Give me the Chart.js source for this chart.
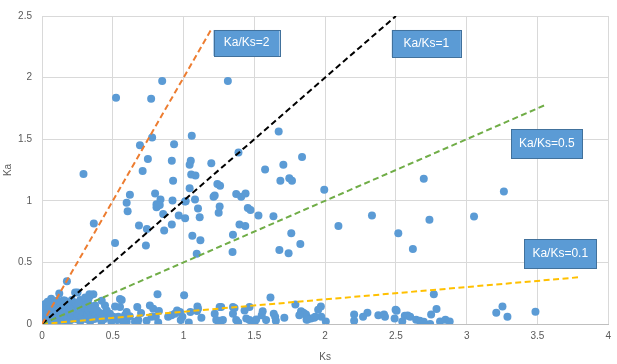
<!DOCTYPE html>
<html>
<head>
<meta charset="utf-8">
<script src="https://cdn.jsdelivr.net/npm/chart.js@4"></script>
<style>
  body { margin: 0; background: #fff; }
</style>
</head>
<body>
<canvas id="kaksChart" width="617" height="364"></canvas>
<script>
// axis ticks
const ksTicks = [0, 0.5, 1, 1.5, 2, 2.5, 3, 3.5, 4];
const kaTicks = [0, 0.5, 1, 1.5, 2, 2.5];

// gene pairs [Ks, Ka]
const pairsHigh = [
  [0.293,1.218],[0.523,1.837],[0.771,1.829],[0.849,1.973],[1.313,1.973],[0.778,1.513],
  [0.692,1.450],[0.933,1.458],[1.058,1.529],[0.748,1.339],[0.917,1.326],[1.051,1.326],
  [1.043,1.292],[0.711,1.242],[1.196,1.305],[1.054,1.213],[1.084,1.205],[0.926,1.163],
  [1.239,1.137],[1.258,1.123],[1.388,1.392],[1.672,1.563],[1.837,1.355],[1.576,1.255],
  [1.705,1.292],[1.684,1.163],[1.747,1.184],[1.766,1.163],[2.697,1.178],[1.994,1.089],
  [3.263,1.076],[0.621,1.050],[0.799,1.060],[0.837,1.010],[0.922,1.002],[1.011,0.994],
  [1.043,1.102],[1.081,1.010],[1.212,1.032],[1.220,1.044],[1.372,1.055],[1.407,1.032],
  [1.438,1.060]
];
const pairsMid = [
  [2.331,0.881],[2.094,0.795],[2.737,0.847],[3.052,0.873],[2.517,0.737],[2.620,0.608],
  [1.825,0.650],[0.366,0.815],[0.516,0.657],[0.598,0.984],[0.605,0.916],[0.685,0.800],
  [0.741,0.771],[0.734,0.637],[0.809,0.973],[0.832,0.965],[0.809,0.947],[0.816,0.957],
  [0.856,0.892],[0.863,0.758],[0.917,0.808],[0.966,0.881],[1.015,0.997],[1.011,0.858],
  [1.062,0.716],[1.102,0.937],[1.114,0.866],[1.119,0.679],[1.093,0.571],[1.248,0.902],
  [1.255,0.953],[1.349,0.724],[1.346,0.584],[1.395,0.808],[1.436,0.795],[1.454,0.942],
  [1.473,0.926],[1.529,0.881],[1.635,0.874],[1.677,0.600],[1.742,0.574],[1.761,0.737]
];
const pairsLow = [
  [2.768,0.242],[3.253,0.142],[3.209,0.092],[3.288,0.058],[3.486,0.100],[2.787,0.121],
  [2.749,0.077],[2.742,0.000],[2.812,0.021],[2.850,0.034],[2.880,0.021],[2.498,0.116],
  [2.505,0.108],[2.491,0.045],[2.545,0.021],[2.563,0.066],[2.583,0.069],[2.601,0.058],
  [2.643,0.034],[2.669,0.026],[2.697,0.018],[2.299,0.092],[2.268,0.058],[2.205,0.077],
  [2.205,0.026],[2.376,0.071],[2.416,0.077],[2.423,0.058],[1.970,0.142],[1.951,0.116],
  [1.973,0.058],[2.005,0.021],[1.930,0.058],[1.900,0.045],[1.869,0.034],[1.846,0.092],
  [1.865,0.077],[0.816,0.242],[1.004,0.234],[0.563,0.195],[0.673,0.137],[0.762,0.150],
  [0.786,0.124],[0.826,0.105],[0.598,0.097],[0.586,0.071],[0.579,0.032],[0.598,0.018],
  [0.657,0.018],[0.675,0.000],[0.774,0.058],[0.804,0.058],[0.821,0.013],[0.891,0.058],
  [0.915,0.071],[0.938,0.084],[0.954,0.110],[0.980,0.032],[0.975,0.097],[0.992,0.058],
  [1.037,0.013],[1.048,0.097],[1.098,0.142],[1.102,0.124],[1.095,0.105],[1.126,0.050],
  [1.220,0.084],[1.231,0.032],[1.255,0.026],[1.278,0.032],[1.255,0.137],[1.266,0.137],
  [1.349,0.137],[1.360,0.129],[1.349,0.084],[1.372,0.032],[1.386,0.013],[1.431,0.110],
  [1.443,0.045],[1.466,0.137],[1.466,0.032],[1.501,0.005],[1.513,0.037],[1.559,0.103],
  [1.552,0.071],[1.614,0.216],[1.583,0.032],[1.637,0.084],[1.647,0.058],[1.652,0.026],
  [1.712,0.050],[1.790,0.158],[1.830,0.103],[1.853,0.084],[1.818,0.071],[1.876,0.037],
  [1.923,0.050],[0.445,0.071],[0.480,0.084],[0.504,0.058],[0.539,0.058],[0.532,0.032],
  [0.575,0.018],[0.551,0.203],[0.516,0.142],[0.551,0.137],[0.739,0.026],[0.680,0.032],
  [0.457,0.110],[0.490,0.020],[0.620,0.063],[0.700,0.090]
];
const pairsCluster = [
  [0.176,0.347],[0.122,0.247],[0.234,0.255],[0.251,0.255],[0.363,0.242],[0.340,0.229],
  [0.335,0.242],[0.305,0.216],[0.270,0.195],[0.211,0.195],[0.293,0.189],[0.328,0.203],
  [0.046,0.168],[0.023,0.163],[0.005,0.150],[0.106,0.176],[0.199,0.163],[0.422,0.189],
  [0.445,0.150],[0.328,0.163],[0.375,0.150],[0.305,0.137],[0.065,0.205],[0.150,0.190],
  [0.010,0.020],[0.020,0.060],[0.030,0.100],[0.020,0.130],[0.040,0.040],[0.050,0.080],
  [0.060,0.120],[0.060,0.150],[0.070,0.030],[0.080,0.070],[0.090,0.110],[0.090,0.160],
  [0.100,0.020],[0.110,0.050],[0.120,0.090],[0.120,0.130],[0.130,0.170],[0.140,0.040],
  [0.150,0.080],[0.150,0.120],[0.160,0.150],[0.170,0.020],[0.180,0.060],[0.190,0.100],
  [0.190,0.140],[0.200,0.030],[0.210,0.070],[0.220,0.110],[0.230,0.150],[0.240,0.040],
  [0.250,0.080],[0.260,0.120],[0.270,0.020],[0.280,0.060],[0.290,0.100],[0.300,0.130],
  [0.310,0.040],[0.320,0.080],[0.330,0.110],[0.340,0.020],[0.350,0.060],[0.360,0.100],
  [0.370,0.040],[0.380,0.080],[0.400,0.050],[0.410,0.090],[0.420,0.020],[0.440,0.040],
  [0.030,0.010],[0.080,0.000],[0.130,0.010],[0.160,0.190],[0.040,0.180],[0.110,0.190],
  [0.240,0.170],[0.280,0.150],[0.050,0.000],[0.000,0.050],[0.010,0.090],[0.140,0.100],
  [0.180,0.170],[0.080,0.140],[0.200,0.120],[0.260,0.170],[0.350,0.130],[0.390,0.110]
];

// reference lines Ka = ratio * Ks
const ratios = [2, 1, 0.5, 0.1];
const ratioEndKs = [1.2, 2.5, 3.55, 3.8];
const ratioNames = ['Ka/Ks=2', 'Ka/Ks=1', 'Ka/Ks=0.5', 'Ka/Ks=0.1'];

const lineColors = ['#ed7d31', '#000000', '#70ad47', '#ffc000'];
// where each label box sits (data units for centre, pixels for size)
const boxPlace = [
  { ks: 1.445, ka: 2.281, w: 66, h: 26 },
  { ks: 2.715, ka: 2.277, w: 69, h: 27 },
  { ks: 3.567, ka: 1.464, w: 71, h: 29 },
  { ks: 3.661, ka: 0.572, w: 72, h: 29 }
];

const allPairs = pairsHigh.concat(pairsMid, pairsLow, pairsCluster);

const datasets = ratios.map((r, i) => ({
  label: ratioNames[i],
  data: [{ x: 0, y: 0 }, { x: ratioEndKs[i], y: ratioEndKs[i] * r }],
  showLine: true,
  borderColor: lineColors[i],
  borderWidth: 2,
  borderDash: [6, 3.5],
  pointRadius: 0,
  order: 1
}));
datasets.push({
  label: 'genes',
  data: allPairs.map(p => ({ x: p[0], y: p[1] })),
  backgroundColor: '#5b9bd5',
  borderWidth: 0,
  pointRadius: 4,
  order: 2
});

const ratioLabels = {
  id: 'ratioLabels',
  afterDatasetsDraw(chart) {
    const { ctx, scales: { x, y } } = chart;
    ctx.save();
    ctx.font = '12px "Liberation Sans", Arial, sans-serif';
    ctx.textAlign = 'center';
    ctx.textBaseline = 'middle';
    ratioNames.forEach((name, i) => {
      const b = boxPlace[i];
      const cx = x.getPixelForValue(b.ks);
      const cy = y.getPixelForValue(b.ka);
      ctx.fillStyle = '#5b9bd5';
      ctx.fillRect(cx - b.w / 2, cy - b.h / 2, b.w, b.h);
      ctx.strokeStyle = '#41719c';
      ctx.lineWidth = 1;
      ctx.strokeRect(Math.round(cx - b.w / 2) + 0.5, Math.round(cy - b.h / 2) + 0.5, b.w, b.h);
      ctx.fillStyle = '#ffffff';
      ctx.fillText(name, cx, cy);
    });
    ctx.restore();
  }
};

const tickFont = { family: '"Liberation Sans", Arial, sans-serif', size: 10 };

new Chart(document.getElementById('kaksChart'), {
  type: 'scatter',
  data: { datasets: datasets },
  options: {
    responsive: false,
    animation: false,
    layout: { padding: { top: 7, right: 7, left: 0, bottom: 0 } },
    plugins: { legend: { display: false }, tooltip: { enabled: false } },
    scales: {
      x: {
        min: 0, max: 4,
        afterFit: s => { s.height = 40; },
        afterBuildTicks: s => { s.ticks = ksTicks.map(v => ({ value: v })); },
        ticks: { font: tickFont, color: '#595959', padding: 6, callback: v => String(v) },
        grid: { color: '#d9d9d9', drawTicks: false },
        border: { color: '#bfbfbf' },
        title: { display: true, text: 'Ks', font: tickFont, color: '#595959', padding: { top: 0, bottom: 1 } }
      },
      y: {
        min: 0, max: 2.5,
        afterFit: s => { s.width = 42; },
        afterBuildTicks: s => { s.ticks = kaTicks.map(v => ({ value: v })); },
        ticks: { font: tickFont, color: '#595959', padding: 10, callback: v => String(v) },
        grid: { color: '#d9d9d9', drawTicks: false },
        border: { color: '#d9d9d9' },
        title: { display: true, text: 'Ka', font: tickFont, color: '#595959', padding: { top: 2, bottom: 0 } }
      }
    }
  },
  plugins: [ratioLabels]
});
</script>
</body>
</html>
